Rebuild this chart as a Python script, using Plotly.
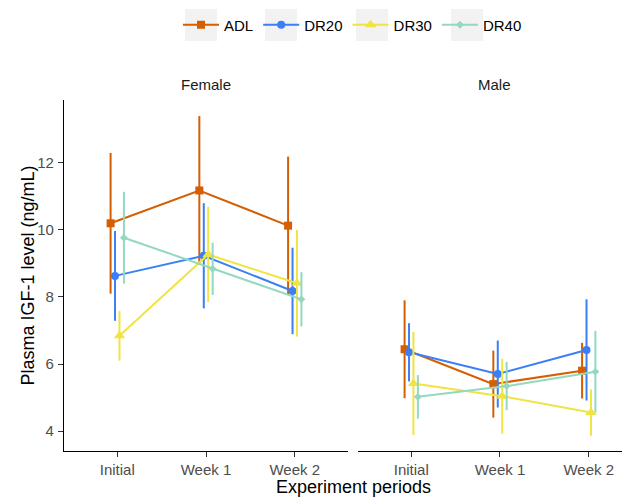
import plotly.graph_objects as go

periods = ["Initial", "Week 1", "Week 2"]
groups = ["ADL", "DR20", "DR30", "DR40"]
sexes = ["Female", "Male"]

female_mean = {
    "ADL": [10.20, 11.18, 10.13],
    "DR20": [8.63, 9.23, 8.18],
    "DR30": [6.84, 9.27, 8.41],
    "DR40": [9.77, 8.84, 7.93],
}
female_se = {
    "ADL": [2.10, 2.22, 2.06],
    "DR20": [1.34, 1.57, 1.29],
    "DR30": [0.74, 1.42, 1.59],
    "DR40": [1.37, 0.78, 0.81],
}
male_mean = {
    "ADL": [6.44, 5.40, 5.80],
    "DR20": [6.35, 5.70, 6.42],
    "DR30": [5.42, 5.04, 4.55],
    "DR40": [5.02, 5.34, 5.77],
}
male_se = {
    "ADL": [1.46, 1.00, 0.83],
    "DR20": [0.87, 1.00, 1.51],
    "DR30": [1.54, 1.12, 0.69],
    "DR40": [0.65, 0.72, 1.22],
}

colors = {"ADL": "#D55E00", "DR20": "#3A7FF6", "DR30": "#F0E442", "DR40": "#94D8BF"}
symbols = {"ADL": "square", "DR20": "circle", "DR30": "triangle-up", "DR40": "diamond"}
msizes = {"ADL": 8, "DR20": 8, "DR30": 10, "DR40": 6}

dodge_width = 0.2
n = len(groups)

# figure geometry (page has an 8px body margin, so the figure is 8px smaller)
W, H = 622, 490
ML, MT, MB, MR = 56, 92, 47, 0
PW, PH = W - ML - MR, H - MT - MB

FONT = "Liberation Sans, Arial, sans-serif"
fig = go.Figure()

for si, (sex, means, ses) in enumerate([("Female", female_mean, female_se), ("Male", male_mean, male_se)]):
    xa = "x" if si == 0 else "x2"
    ya = "y" if si == 0 else "y2"
    for gi, g in enumerate(groups):
        off = (gi - (n - 1) / 2) * dodge_width / n
        xs = [i + 1 + off for i in range(len(periods))]
        fig.add_trace(go.Scatter(
            x=xs, y=means[g], xaxis=xa, yaxis=ya,
            mode="lines+markers",
            name=g, legendgroup=g, showlegend=(si == 0),
            line=dict(color=colors[g], width=2),
            marker=dict(color=colors[g], symbol=symbols[g], size=msizes[g]),
            error_y=dict(type="data", array=ses[g], visible=True, color=colors[g], thickness=2, width=0),
        ))

axis_common = dict(
    automargin=False,
    showgrid=False, zeroline=False, showline=True, linecolor="black", linewidth=1.1,
    ticks="outside", ticklen=5, tickcolor="#333333", tickwidth=1.1,
    tickfont=dict(family=FONT, size=15, color="#4D4D4D"),
)

fig.update_layout(
    template="none",
    width=W, height=H,
    margin=dict(l=ML, r=MR, t=MT, b=MB, autoexpand=False),
    paper_bgcolor="white", plot_bgcolor="white",
    font=dict(family=FONT, size=15, color="black"),
    xaxis=dict(domain=[0, 284 / PW], range=[0.4, 3.6], tickvals=[1, 2, 3], ticktext=periods, **axis_common),
    xaxis2=dict(domain=[294 / PW, 1], range=[0.4, 3.465], tickvals=[1, 2, 3], ticktext=periods, **axis_common),
    yaxis=dict(range=[3.403, 13.88], tickvals=[4, 6, 8, 10, 12], ticklabelstandoff=1, **axis_common),
    yaxis2=dict(range=[3.403, 13.88], anchor="x2", matches="y", showticklabels=False, automargin=False,
                showgrid=False, zeroline=False, showline=False, ticks=""),
    legend=dict(orientation="h", x=(170 - ML) / PW, xanchor="left", y=1 - 17 / H, yanchor="middle",
                yref="container", itemwidth=36,
                font=dict(family=FONT, size=15, color="black"),
                bgcolor="rgba(0,0,0,0)"),
    showlegend=True,
)

# grey legend key backgrounds (ggplot style)
key_centers = [193, 273, 364, 459]
for cx in key_centers:
    fig.add_shape(type="rect", xref="paper", yref="paper",
                  xsizemode="pixel", ysizemode="pixel",
                  xanchor=(cx - ML) / PW, yanchor=(H - MB - 17) / PH,
                  x0=-16, x1=16, y0=-16, y1=16,
                  fillcolor="#F2F2F2", line=dict(width=0), layer="below")

fig.add_annotation(text="Female", xref="x domain", yref="paper", x=0.5, y=1.0, yshift=16, yanchor="middle",
                   showarrow=False, font=dict(family=FONT, size=15, color="#1A1A1A"))
fig.add_annotation(text="Male", xref="x2 domain", yref="paper", x=0.5, y=1.0, yshift=16, yanchor="middle",
                   showarrow=False, font=dict(family=FONT, size=15, color="#1A1A1A"))
fig.add_annotation(text="Experiment periods", xref="paper", yref="paper", x=(345 - ML) / PW, y=0,
                   yshift=-36, yanchor="middle", showarrow=False,
                   font=dict(family=FONT, size=18, color="black"))
fig.add_annotation(text="Plasma IGF-1 level (ng/mL)", xref="paper", yref="paper", x=0, y=0.5,
                   xshift=-37, xanchor="center", yanchor="middle", textangle=-90, showarrow=False,
                   font=dict(family=FONT, size=18, color="black"))

fig.write_html("out.html")
